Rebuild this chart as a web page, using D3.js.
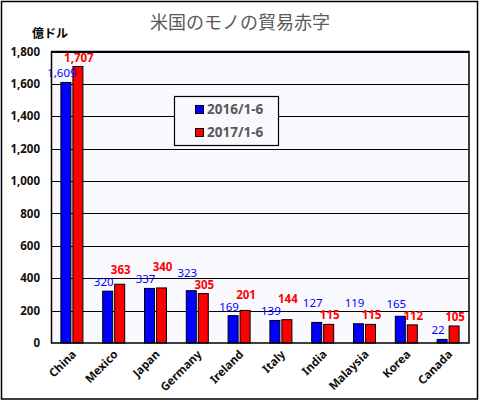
<!DOCTYPE html>
<html>
<head>
<meta charset="utf-8">
<script src="https://cdn.jsdelivr.net/npm/d3@7"></script>
<style>
  html, body { margin: 0; padding: 0; background: #fff; }
  svg { display: block; }
</style>
</head>
<body>
<svg id="chart"></svg>
<script>
const categories = ["China", "Mexico", "Japan", "Germany", "Ireland", "Italy", "India", "Malaysia", "Korea", "Canada"]
const values2016 = [1609, 320, 337, 323, 169, 139, 127, 119, 165, 22]
const values2017 = [1707, 363, 340, 305, 201, 144, 115, 115, 112, 105]
const seriesNames = ["2016/1-6", "2017/1-6"]
const yTicks = [0, 200, 400, 600, 800, 1000, 1200, 1400, 1600, 1800]

const width = 480, height = 401
const margin = {left: 51, top: 51.5, right: 11, bottom: 58}
const font = "'Noto Sans', 'Noto Sans CJK JP', sans-serif"
const jpFont = "'Noto Sans CJK JP', 'Noto Sans', sans-serif"

const svg = d3.select("#chart").attr("width", width).attr("height", height)

// fond pointillé
const defs = svg.append("defs")
const pat = defs.append("pattern").attr("id", "dots")
    .attr("width", 4).attr("height", 4).attr("patternUnits", "userSpaceOnUse")
pat.append("rect").attr("width", 4).attr("height", 4).attr("fill", "#fdfdff")
pat.append("rect").attr("x", 0).attr("y", 0).attr("width", 1).attr("height", 1).attr("fill", "#e4f8fc")
pat.append("rect").attr("x", 2).attr("y", 1).attr("width", 1).attr("height", 1).attr("fill", "#fae6f7")
pat.append("rect").attr("x", 3).attr("y", 2).attr("width", 1).attr("height", 1).attr("fill", "#e8f4fc")
pat.append("rect").attr("x", 1).attr("y", 3).attr("width", 1).attr("height", 1).attr("fill", "#f8ecf8")

svg.append("rect")
    .attr("x", 1.5).attr("y", 1.5).attr("width", 476).attr("height", 397.5)
    .attr("fill", "#fff").attr("stroke", "#000").attr("stroke-width", 1.5)

const x0 = d3.scaleBand().domain(categories).range([margin.left, width - margin.right])
const y = d3.scaleLinear().domain([0, 1800]).range([height - margin.bottom, margin.top])

const barW = 10, gap = 2

svg.append("rect")
    .attr("x", margin.left).attr("y", margin.top)
    .attr("width", width - margin.left - margin.right)
    .attr("height", height - margin.top - margin.bottom)
    .attr("fill", "url(#dots)")

// grille
svg.append("g").selectAll("line").data(yTicks.slice(1)).join("line")
    .attr("x1", margin.left).attr("x2", width - margin.right)
    .attr("y1", d => Math.round(y(d)) + 0.5).attr("y2", d => Math.round(y(d)) + 0.5)
    .attr("stroke", "#000").attr("stroke-width", 1)

// axe y
const yAxis = svg.append("g").attr("transform", `translate(${margin.left},0)`)
    .call(d3.axisLeft(y).tickValues(yTicks).tickSize(0).tickPadding(11).tickFormat(d3.format(",")))
yAxis.select(".domain").remove()
yAxis.selectAll("text").attr("font-family", font).attr("font-size", 11.5)
    .attr("font-weight", "bold").attr("fill", "#111")

// barres
const series = [
  {name: seriesNames[0], values: values2016, color: "#0000ff", off: -(barW + gap / 2), dx: -4 },
  {name: seriesNames[1], values: values2017, color: "#ff0000", off: gap / 2, dx: 1 }
]

series.forEach(s => {
  svg.append("g").selectAll("rect").data(categories).join("rect")
      .attr("x", d => x0(d) + x0.bandwidth() / 2 + s.off)
      .attr("y", (d, i) => y(s.values[i]))
      .attr("width", barW)
      .attr("height", (d, i) => y(0) - y(s.values[i]))
      .attr("fill", s.color)
      .attr("stroke", "#000").attr("stroke-width", 1)
})

// étiquettes de valeurs : on décale vers le haut celle de la plus grande valeur si elles se chevauchent
const labelY = categories.map((c, i) => {
  let a = y(values2016[i]) - 5, b = y(values2017[i]) - 5
  const sep = 12
  if (Math.abs(a - b) < sep) {
    if (values2016[i] >= values2017[i]) a = b - sep
    else b = a - sep
  }
  return [a, b]
})

series.forEach((s, k) => {
  svg.append("g").selectAll("text").data(categories).join("text")
      .attr("x", d => x0(d) + x0.bandwidth() / 2 + s.off + barW / 2 + s.dx)
      .attr("y", (d, i) => labelY[i][k])
      .attr("text-anchor", "middle")
      .attr("font-family", font).attr("font-size", 11.5)
      .attr("font-weight", k === 0 ? "normal" : "bold")
      .attr("fill", s.color)
      .text((d, i) => d3.format(",")(s.values[i]))
})

// cadre du graphe
svg.append("rect")
    .attr("x", margin.left + 0.5).attr("y", margin.top)
    .attr("width", width - margin.left - margin.right - 0.5)
    .attr("height", height - margin.top - margin.bottom)
    .attr("fill", "none").attr("stroke", "#000").attr("stroke-width", 1.5)

// étiquettes x
svg.append("g").selectAll("text").data(categories).join("text")
    .attr("transform", d => `translate(${x0(d) + x0.bandwidth() / 2 + 5},${height - margin.bottom + 12}) rotate(-45)`)
    .attr("text-anchor", "end")
    .attr("font-family", font).attr("font-size", 11.5).attr("font-weight", "bold")
    .attr("fill", "#111")
    .text(d => d)

// titre
svg.append("text")
    .attr("x", 240).attr("y", 29)
    .attr("text-anchor", "middle")
    .attr("font-family", jpFont).attr("font-size", 18)
    .attr("fill", "#595959")
    .text("米国のモノの貿易赤字")

svg.append("text")
    .attr("x", 50).attr("y", 38)
    .attr("text-anchor", "middle")
    .attr("font-family", jpFont).attr("font-size", 12).attr("font-weight", "bold")
    .attr("fill", "#000")
    .text("億ドル")

// légende
const lg = svg.append("g")
lg.append("rect")
    .attr("x", 174.5).attr("y", 96.5).attr("width", 104).attr("height", 49)
    .attr("fill", "url(#dots)").attr("stroke", "#000").attr("stroke-width", 1.2)
series.forEach((s, k) => {
  lg.append("rect")
      .attr("x", 195.5).attr("y", 105.5 + k * 23).attr("width", 8).attr("height", 8)
      .attr("fill", s.color).attr("stroke", "#000").attr("stroke-width", 1)
  lg.append("text")
      .attr("x", 207).attr("y", 114 + k * 23)
      .attr("font-family", font).attr("font-size", 13.5).attr("font-weight", "bold")
      .attr("fill", "#595959")
      .text(s.name)
})
</script>
</body>
</html>
